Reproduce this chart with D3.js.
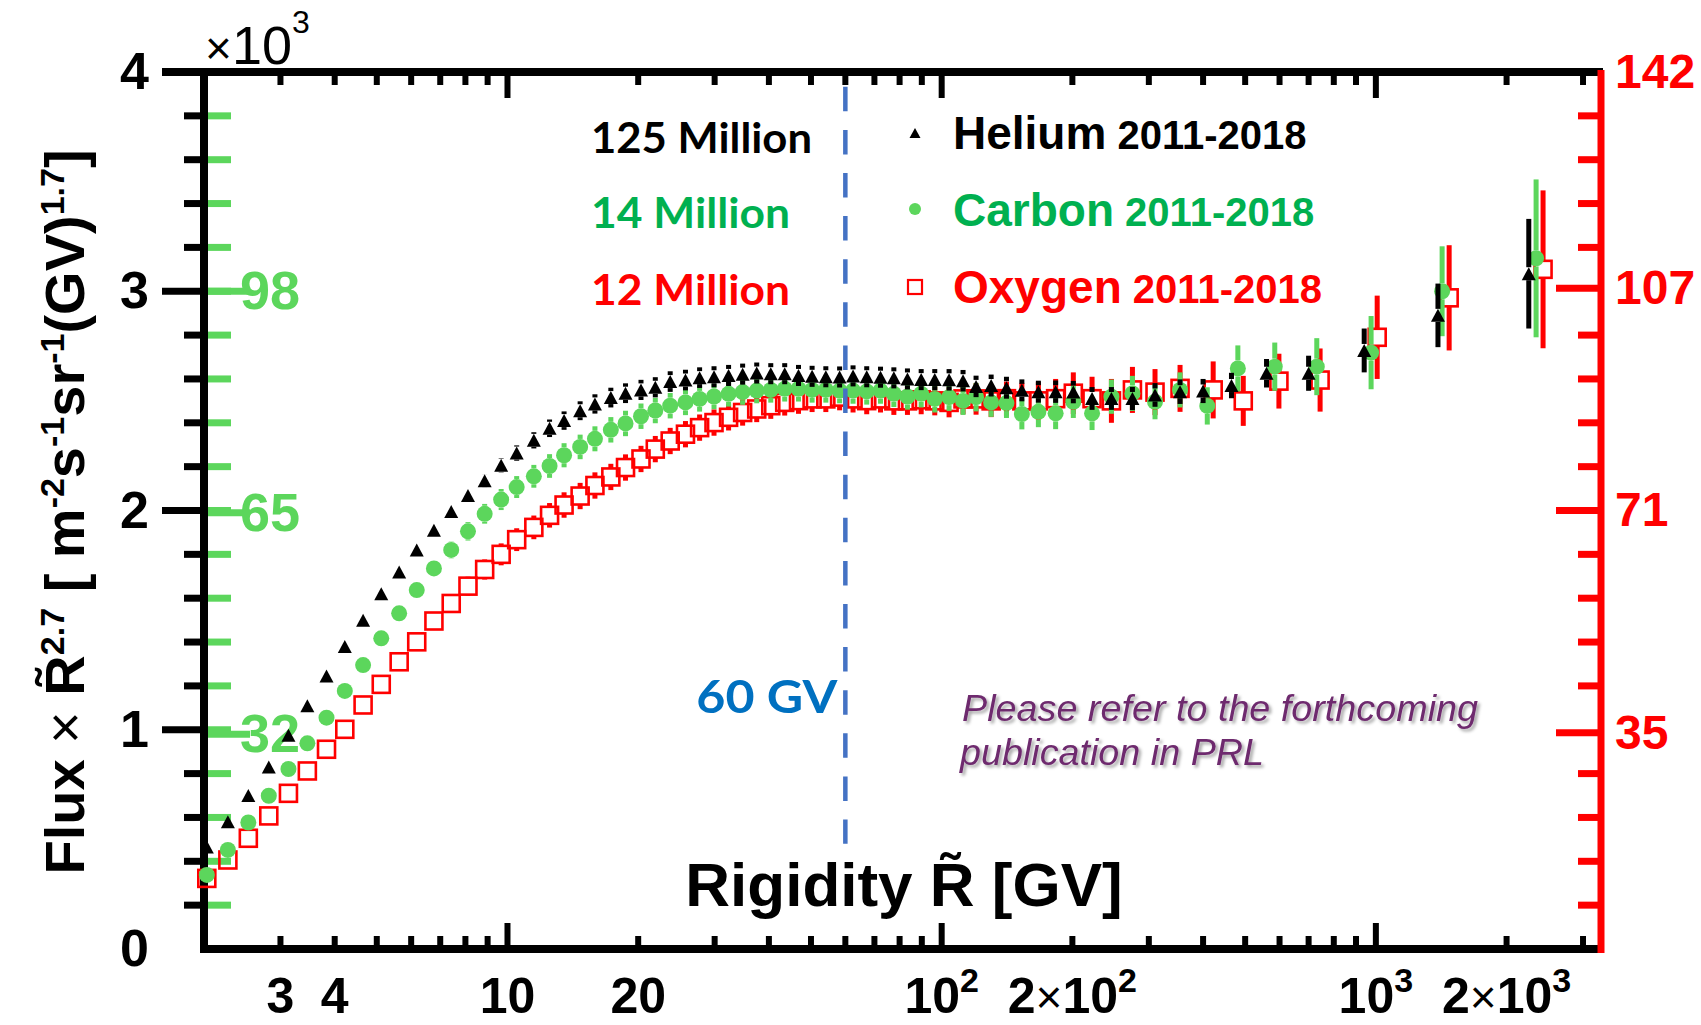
<!DOCTYPE html>
<html>
<head>
<meta charset="utf-8">
<script src="https://cdn.jsdelivr.net/npm/d3@7"></script>
<style>
  html, body { margin: 0; padding: 0; background: #fff; }
  svg { display: block; }
</style>
</head>
<body>
<svg id="chart" width="1701" height="1025"></svg>
<script>
// Helium, carbon and oxygen fluxes multiplied by R^2.7 (units of 10^3), versus rigidity in GV.
const rigidityHe = [2.03, 2.27, 2.53, 2.82, 3.13, 3.46, 3.83, 4.22, 4.65, 5.12,
  5.63, 6.18, 6.77, 7.42, 8.11, 8.86, 9.67, 10.5, 11.5, 12.5,
  13.5, 14.7, 15.9, 17.3, 18.7, 20.3, 21.9, 23.7, 25.7, 27.7,
  29.9, 32.3, 34.8, 37.5, 40.4, 43.5, 46.8, 50.3, 54.1, 58.2,
  62.5, 67.2, 72.3, 77.6, 83.4, 89.7, 96.4, 104, 112, 120,
  130, 141, 153, 167, 183, 201, 222, 246, 275, 310,
  354, 400, 465, 560, 700, 940, 1390, 2250];
const fluxHe = [0.465, 0.58, 0.70, 0.83, 0.975, 1.11, 1.245, 1.38, 1.50, 1.62,
  1.72, 1.82, 1.91, 1.995, 2.068, 2.136, 2.206, 2.262, 2.32, 2.375,
  2.41, 2.455, 2.486, 2.515, 2.535, 2.55, 2.562, 2.588, 2.595, 2.606,
  2.61, 2.616, 2.622, 2.627, 2.624, 2.624, 2.616, 2.612, 2.61, 2.609,
  2.614, 2.61, 2.608, 2.605, 2.60, 2.597, 2.597, 2.596, 2.592, 2.566,
  2.57, 2.56, 2.548, 2.542, 2.542, 2.54, 2.511, 2.511, 2.511, 2.527,
  2.542, 2.545, 2.57, 2.626, 2.626, 2.73, 2.89, 3.08];
const errHe = [0.012, 0.012, 0.012, 0.012, 0.012, 0.013, 0.013, 0.014, 0.014, 0.015,
  0.016, 0.018, 0.02, 0.024, 0.028, 0.03, 0.032, 0.035, 0.037, 0.04,
  0.042, 0.043, 0.044, 0.045, 0.045, 0.046, 0.046, 0.047, 0.047, 0.047,
  0.048, 0.048, 0.048, 0.048, 0.048, 0.048, 0.048, 0.048, 0.048, 0.048,
  0.048, 0.048, 0.048, 0.048, 0.048, 0.048, 0.048, 0.049, 0.049, 0.049,
  0.05, 0.05, 0.05, 0.05, 0.051, 0.051, 0.052, 0.052, 0.053, 0.054,
  0.056, 0.055, 0.058, 0.065, 0.08, 0.1, 0.145, 0.25];

const rigidityC = [2.03, 2.27, 2.53, 2.82, 3.13, 3.46, 3.83, 4.22, 4.65, 5.12,
  5.63, 6.18, 6.77, 7.42, 8.11, 8.86, 9.67, 10.5, 11.5, 12.5,
  13.5, 14.7, 15.9, 17.3, 18.7, 20.3, 21.9, 23.7, 25.7, 27.7,
  29.9, 32.3, 34.8, 37.5, 40.4, 43.5, 46.8, 50.3, 54.1, 58.2,
  62.5, 67.2, 72.3, 77.6, 83.4, 89.7, 96.4, 104, 112, 120,
  130, 141, 153, 167, 183, 201, 222, 246, 275, 310,
  354, 409, 481, 585, 731, 975, 1421, 2339];
const fluxC = [0.338, 0.452, 0.577, 0.699, 0.821, 0.938, 1.055, 1.177, 1.295, 1.417,
  1.531, 1.637, 1.736, 1.82, 1.905, 1.985, 2.05, 2.107, 2.156, 2.203,
  2.252, 2.29, 2.327, 2.368, 2.397, 2.43, 2.456, 2.478, 2.493, 2.509,
  2.52, 2.532, 2.54, 2.547, 2.55, 2.555, 2.555, 2.55, 2.55, 2.547,
  2.547, 2.543, 2.547, 2.532, 2.52, 2.532, 2.509, 2.517, 2.50, 2.517,
  2.493, 2.49, 2.44, 2.45, 2.443, 2.496, 2.443, 2.519, 2.534, 2.496,
  2.55, 2.477, 2.648, 2.656, 2.656, 2.72, 3.0, 3.15];
const errC = [0.015, 0.015, 0.015, 0.016, 0.016, 0.017, 0.018, 0.019, 0.02, 0.022,
  0.025, 0.03, 0.034, 0.038, 0.042, 0.045, 0.048, 0.05, 0.052, 0.054,
  0.055, 0.056, 0.057, 0.058, 0.058, 0.058, 0.058, 0.058, 0.058, 0.058,
  0.058, 0.058, 0.058, 0.058, 0.058, 0.058, 0.058, 0.058, 0.058, 0.058,
  0.06, 0.06, 0.06, 0.06, 0.06, 0.062, 0.062, 0.063, 0.064, 0.065,
  0.066, 0.068, 0.07, 0.07, 0.072, 0.074, 0.076, 0.078, 0.08, 0.08,
  0.08, 0.085, 0.105, 0.11, 0.13, 0.167, 0.205, 0.36];

const rigidityO = [2.03, 2.27, 2.53, 2.82, 3.13, 3.46, 3.83, 4.22, 4.65, 5.12,
  5.63, 6.18, 6.77, 7.42, 8.11, 8.86, 9.67, 10.5, 11.5, 12.5,
  13.5, 14.7, 15.9, 17.3, 18.7, 20.3, 21.9, 23.7, 25.7, 27.7,
  29.9, 32.3, 34.8, 37.5, 40.4, 43.5, 46.8, 50.3, 54.1, 58.2,
  62.5, 67.2, 72.3, 77.6, 83.4, 89.7, 96.4, 104, 112, 120,
  130, 141, 153, 167, 183, 201, 222, 246, 275, 310,
  354, 422, 495, 598, 744, 1007, 1475, 2427];
const fluxO = [0.322, 0.406, 0.505, 0.607, 0.71, 0.812, 0.911, 1.002, 1.113, 1.207,
  1.31, 1.401, 1.496, 1.576, 1.655, 1.731, 1.80, 1.867, 1.923, 1.978,
  2.025, 2.066, 2.114, 2.153, 2.196, 2.235, 2.28, 2.317, 2.348, 2.378,
  2.401, 2.425, 2.447, 2.463, 2.478, 2.493, 2.501, 2.509, 2.509, 2.517,
  2.509, 2.501, 2.509, 2.50, 2.50, 2.505, 2.50, 2.493, 2.509, 2.509,
  2.50, 2.51, 2.50, 2.50, 2.51, 2.535, 2.51, 2.50, 2.55, 2.54,
  2.557, 2.55, 2.50, 2.59, 2.595, 2.79, 2.97, 3.10];
const errO = [0.015, 0.015, 0.015, 0.016, 0.016, 0.017, 0.018, 0.02, 0.022, 0.025,
  0.028, 0.032, 0.036, 0.04, 0.043, 0.046, 0.05, 0.052, 0.054, 0.056,
  0.058, 0.06, 0.06, 0.06, 0.06, 0.06, 0.06, 0.06, 0.06, 0.06,
  0.06, 0.06, 0.06, 0.06, 0.06, 0.06, 0.06, 0.06, 0.06, 0.06,
  0.062, 0.062, 0.062, 0.064, 0.064, 0.066, 0.066, 0.068, 0.07, 0.072,
  0.074, 0.078, 0.082, 0.086, 0.09, 0.095, 0.1, 0.1, 0.105, 0.105,
  0.107, 0.13, 0.114, 0.125, 0.144, 0.19, 0.24, 0.36];

// Axis ticks and labels
const leftTickValues = [0, 1, 2, 3, 4];
const leftTickLabels = ["0", "1", "2", "3", "4"];
const carbonTickValues = [32, 65, 98];
const oxygenTickValues = [35, 71, 107, 142];
const xTickValues = [3, 4, 10, 20, 100, 200, 1000, 2000];
const xTickLabels = ["3", "4", "10", "20", "10^2", "2×10^2", "10^3", "2×10^3"];
const cutRigidity = 60;

// Legend entries
const legendNames = ["Helium", "Carbon", "Oxygen"];
const legendPeriods = ["2011-2018", "2011-2018", "2011-2018"];
const eventCounts = ["125 Million", "14 Million", "12 Million"];

const BLACK = "#000000", GREEN = "#5cd65c", DARKGREEN = "#00b050", RED = "#ff0000", BLUE = "#4472c4";
const HELV = "'Liberation Sans', Arial, Helvetica, sans-serif";
const CALI = "Lato, 'Open Sans', sans-serif";

const svg = d3.select("#chart");
const defs = svg.append("defs");
defs.append("filter").attr("id", "noteShadow")
  .attr("x", "-5%").attr("y", "-20%").attr("width", "110%").attr("height", "150%")
  .append("feDropShadow")
  .attr("dx", 2.5).attr("dy", 2.5).attr("stdDeviation", 1.6)
  .attr("flood-color", "#000").attr("flood-opacity", 0.35);

const x = d3.scaleLog().domain([2, 3300]).range([204, 1601]);
const y = d3.scaleLinear().domain([0, 4]).range([949, 72]);
const yCarbon = d3.scaleLinear().domain([0, 98 * 4 / 3]).range([949, 72]);
const yOxygen = d3.scaleLinear().domain([0, 142]).range([949, 72]);

const xMinor = x.ticks().filter(v => v > 2 && v < 3300);
const xMajor = xMinor.filter(v => Math.abs(Math.log10(v) - Math.round(Math.log10(v))) < 1e-9);
const yMinor = d3.range(1, 20).map(i => i / 5).filter(v => Math.abs(v - Math.round(v)) > 1e-9);

// ---------- frame ----------
const frame = svg.append("g");
frame.append("line").attr("x1", 162).attr("x2", x.range()[1] + 2)
  .attr("y1", y(4)).attr("y2", y(4)).attr("stroke", BLACK).attr("stroke-width", 8);
frame.append("line").attr("x1", x.range()[0] - 4).attr("x2", x.range()[1] + 2)
  .attr("y1", y(0)).attr("y2", y(0)).attr("stroke", BLACK).attr("stroke-width", 8);
frame.append("line").attr("x1", x.range()[0]).attr("x2", x.range()[0])
  .attr("y1", y(4) - 4).attr("y2", y(0) + 4).attr("stroke", BLACK).attr("stroke-width", 8);

// x ticks (inside, bottom and top)
frame.selectAll("line.xb").data(xMinor).join("line")
  .attr("x1", d => x(d)).attr("x2", d => x(d))
  .attr("y1", y(0)).attr("y2", d => y(0) - (xMajor.includes(d) ? 26 : 13))
  .attr("stroke", BLACK).attr("stroke-width", 6);
frame.selectAll("line.xt").data(xMinor).join("line")
  .attr("x1", d => x(d)).attr("x2", d => x(d))
  .attr("y1", y(4)).attr("y2", d => y(4) + (xMajor.includes(d) ? 26 : 13))
  .attr("stroke", BLACK).attr("stroke-width", 6);

// left axis: black ticks outward, green ticks inward
frame.selectAll("line.ylm").data(yMinor).join("line")
  .attr("x1", 184).attr("x2", 205).attr("y1", d => y(d)).attr("y2", d => y(d))
  .attr("stroke", BLACK).attr("stroke-width", 7);
frame.selectAll("line.ylM").data(leftTickValues.filter(v => v > 0)).join("line")
  .attr("x1", 162).attr("x2", 205).attr("y1", d => y(d)).attr("y2", d => y(d))
  .attr("stroke", BLACK).attr("stroke-width", 7);
frame.selectAll("line.ygm").data(yMinor.concat([1, 2, 3])).join("line")
  .attr("x1", 208).attr("x2", 231).attr("y1", d => y(d)).attr("y2", d => y(d))
  .attr("stroke", GREEN).attr("stroke-width", 7);
frame.selectAll("line.ygM").data(carbonTickValues).join("line")
  .attr("x1", 208).attr("x2", 250).attr("y1", d => yCarbon(d)).attr("y2", d => yCarbon(d))
  .attr("stroke", GREEN).attr("stroke-width", 7);

// left tick labels
frame.selectAll("text.yl").data(leftTickValues).join("text")
  .attr("x", 149).attr("y", d => y(d)).attr("dy", "0.33em")
  .attr("text-anchor", "end")
  .style("font", `bold 52px ${HELV}`).attr("fill", BLACK)
  .text((d, i) => leftTickLabels[i]);

// x tick labels
frame.selectAll("text.xl").data(xTickValues).join("text")
  .attr("x", d => x(d)).attr("y", 1013).attr("text-anchor", "middle")
  .style("font", `bold 50px ${HELV}`).attr("fill", BLACK)
  .each(function (d, i) {
    const t = d3.select(this);
    const lab = xTickLabels[i];
    const [base, exp] = lab.split("^");
    if (base.includes("×")) {
      const [pre, post] = base.split("×");
      t.append("tspan").text(pre);
      t.append("tspan").style("font-weight", "normal").style("font-size", "46px").text("×");
      t.append("tspan").text(post);
    } else {
      t.append("tspan").text(base);
    }
    if (exp) t.append("tspan").attr("dy", -21).style("font-size", "34px").text(exp);
  });

// multiplier above the left axis
const mult = frame.append("text").attr("x", 205).attr("y", 64)
  .style("font", `normal 54px ${HELV}`).attr("fill", BLACK);
mult.append("tspan").style("font-size", "46px").text("×");
mult.append("tspan").text("10");
mult.append("tspan").attr("dy", -31).style("font-size", "32px").text("3");

// ---------- data ----------
const plot = svg.append("g");
const series = [
  { r: rigidityO, v: fluxO, e: errO, color: RED, gap: 8.5, bw: 5 },
  { r: rigidityC, v: fluxC, e: errC, color: GREEN, gap: 8, bw: 5 },
  { r: rigidityHe, v: fluxHe, e: errHe, color: BLACK, gap: 6.5, bw: 5 }
];

function drawBars(g, s) {
  const pts = s.r.map((r, i) => ({ r, v: s.v[i], e: s.e[i] }));
  pts.forEach(p => {
    const cx = x(p.r), cy = y(p.v), top = y(p.v + p.e), bot = y(p.v - p.e);
    if (cy - s.gap > top) {
      g.append("rect").attr("x", cx - s.bw / 2).attr("y", top)
        .attr("width", s.bw).attr("height", cy - s.gap - top).attr("fill", s.color);
    }
    if (bot > cy + s.gap) {
      g.append("rect").attr("x", cx - s.bw / 2).attr("y", cy + s.gap)
        .attr("width", s.bw).attr("height", bot - cy - s.gap).attr("fill", s.color);
    }
  });
  return pts;
}

// oxygen: open squares
{
  const s = series[0];
  const g = plot.append("g");
  const pts = drawBars(g, s);
  g.selectAll("rect.m").data(pts).join("rect")
    .attr("x", d => x(d.r) - 8.5).attr("y", d => y(d.v) - 8.5)
    .attr("width", 17).attr("height", 17)
    .attr("fill", "none").attr("stroke", RED).attr("stroke-width", 2.6);
}
// carbon: filled circles
{
  const s = series[1];
  const g = plot.append("g");
  const pts = drawBars(g, s);
  g.selectAll("circle").data(pts).join("circle")
    .attr("cx", d => x(d.r)).attr("cy", d => y(d.v)).attr("r", 8)
    .attr("fill", GREEN);
}
// helium: filled triangles
const tri = (w, h) => `M0,${-h / 2}L${w / 2},${h / 2}L${-w / 2},${h / 2}Z`;
{
  const s = series[2];
  const g = plot.append("g");
  const pts = drawBars(g, s);
  g.selectAll("path").data(pts).join("path")
    .attr("transform", d => `translate(${x(d.r)},${y(d.v)})`)
    .attr("d", tri(14, 13)).attr("fill", BLACK);
}

// ---------- overlays ----------
// carbon labels on the green scale
frame.selectAll("text.yg").data(carbonTickValues).join("text")
  .attr("x", 240).attr("y", d => yCarbon(d)).attr("dy", "0.33em")
  .style("font", `bold 54px ${HELV}`).attr("fill", GREEN)
  .text(d => d);

// right oxygen axis
const right = svg.append("g");
right.selectAll("line.rm").data(yMinor).join("line")
  .attr("x1", 1578).attr("x2", 1600).attr("y1", d => y(d)).attr("y2", d => y(d))
  .attr("stroke", RED).attr("stroke-width", 7);
right.selectAll("line.rM").data(oxygenTickValues.slice(0, 3)).join("line")
  .attr("x1", 1556).attr("x2", 1600).attr("y1", d => yOxygen(d)).attr("y2", d => yOxygen(d))
  .attr("stroke", RED).attr("stroke-width", 7);
right.append("line").attr("x1", 1601).attr("x2", 1601)
  .attr("y1", y(4) - 2).attr("y2", y(0) + 4).attr("stroke", RED).attr("stroke-width", 7);
right.selectAll("text").data(oxygenTickValues).join("text")
  .attr("x", 1615).attr("y", d => yOxygen(d)).attr("dy", "0.33em")
  .style("font", `bold 48px ${HELV}`).attr("fill", RED)
  .text(d => d);

// axis titles
svg.append("text").attr("x", 904).attr("y", 906).attr("text-anchor", "middle")
  .style("font", `bold 62px ${HELV}`).attr("fill", BLACK)
  .text("Rigidity R\u0303 [GV]");

const yt = svg.append("text").attr("transform", "translate(84,512) rotate(-90)")
  .attr("text-anchor", "middle").style("font", `bold 56px ${HELV}`).attr("fill", BLACK);
[["Flux ", 0], ["× ", 0, "normal"], ["R\u0303", 0], ["2.7", 1], [" [ m", 0], ["-2", 1],
 ["s", 0], ["-1", 1], ["sr", 0], ["-1", 1], ["(GV)", 0], ["1.7", 1], ["]", 0]]
  .reduce((raised, [txt, sup, weight]) => {
    const ts = yt.append("tspan").text(txt);
    if (weight) ts.style("font-weight", weight);
    if (sup) { ts.style("font-size", "34px"); if (!raised) ts.attr("dy", -20); }
    else if (raised) ts.attr("dy", 20);
    return !!sup;
  }, false);

// 60 GV marker line
svg.append("line")
  .attr("x1", x(cutRigidity)).attr("x2", x(cutRigidity))
  .attr("y1", y(4)).attr("y2", y(0.48))
  .attr("stroke", BLUE).attr("stroke-width", 4.5)
  .attr("stroke-dasharray", "24.5 18.6").attr("stroke-dashoffset", 28.3);
svg.append("text").attr("x", x(cutRigidity) - 8).attr("y", 713).attr("text-anchor", "end")
  .attr("textLength", 141).attr("lengthAdjust", "spacingAndGlyphs")
  .style("font", `bold 46px ${CALI}`).attr("fill", "#0070c0")
  .text(`${cutRigidity} GV`);

// event counts
const countColors = [BLACK, DARKGREEN, RED];
const countWidths = [221, 199, 199];
const countBase = [153, 228, 305];
svg.selectAll("text.count").data(eventCounts).join("text")
  .attr("x", 591).attr("y", (d, i) => countBase[i])
  .attr("textLength", (d, i) => countWidths[i]).attr("lengthAdjust", "spacingAndGlyphs")
  .style("font", `bold 42px ${CALI}`).attr("fill", (d, i) => countColors[i])
  .text(d => d);

// legend
const legColors = [BLACK, DARKGREEN, RED];
const legBase = [149, 226, 303];
const legMarkY = [133, 209, 287];
const leg = svg.append("g");
leg.append("path").attr("transform", `translate(915,${legMarkY[0]})`).attr("d", tri(11, 10)).attr("fill", BLACK);
leg.append("circle").attr("cx", 915).attr("cy", legMarkY[1]).attr("r", 6).attr("fill", GREEN);
leg.append("rect").attr("x", 908).attr("y", legMarkY[2] - 7).attr("width", 14).attr("height", 14)
  .attr("fill", "none").attr("stroke", RED).attr("stroke-width", 2.2);
legendNames.forEach((name, i) => {
  const t = leg.append("text").attr("x", 953).attr("y", legBase[i])
    .style("font", `bold 46px ${HELV}`).attr("fill", legColors[i]);
  t.append("tspan").text(name);
  t.append("tspan").style("font-size", "40px").text(" " + legendPeriods[i]);
});

// note
const note = svg.append("g").attr("filter", "url(#noteShadow)")
  .style("font", `italic 36px ${HELV}`).attr("fill", "#6e2b6e");
note.append("text").attr("x", 962).attr("y", 721)
  .attr("textLength", 516).attr("lengthAdjust", "spacingAndGlyphs")
  .text("Please refer to the forthcoming");
note.append("text").attr("x", 960).attr("y", 765)
  .attr("textLength", 304).attr("lengthAdjust", "spacingAndGlyphs")
  .text("publication in PRL");
</script>
</body>
</html>
